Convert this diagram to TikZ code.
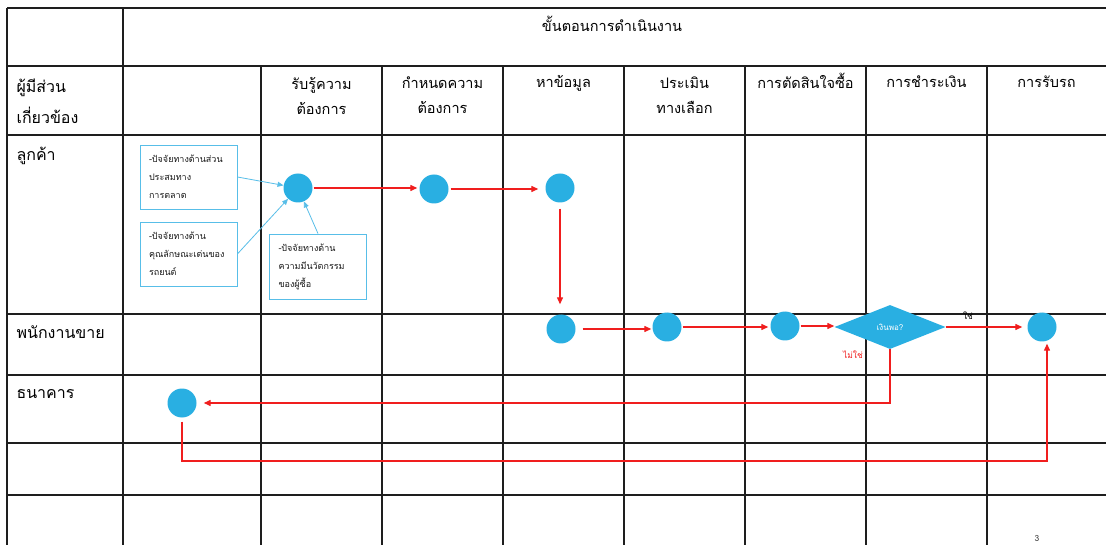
\documentclass[tikz,border=0pt]{standalone}
\usepackage{fontspec}
\setmainfont[Script=Thai]{Loma}
\usetikzlibrary{shapes.geometric,arrows.meta,calc}

\definecolor{dotblue}{RGB}{41,175,226}
\definecolor{boxblue}{RGB}{88,190,232}
\definecolor{flowred}{RGB}{240,30,30}
\definecolor{gridline}{RGB}{30,30,30}

\begin{document}
\begin{tikzpicture}[x=1pt,y=-1pt,
  grid/.style={draw=gridline,line width=1.3pt},
  stepdot/.style={circle,fill=dotblue,minimum size=29pt,inner sep=0pt},
  decision/.style={diamond,fill=dotblue,minimum width=111pt,minimum height=44pt,inner sep=0pt,font=\fontsize{8}{9}\selectfont,text=white},
  factor/.style={draw=boxblue,line width=0.8pt,minimum width=97pt,text width=79pt,align=left,inner xsep=9pt,font=\fontsize{9}{18}\selectfont,text=black!90},
  flow/.style={draw=flowred,line width=1.3pt,-{Triangle[length=7pt,width=6pt]}},
  link/.style={draw=boxblue,line width=0.8pt,-{Triangle[length=6pt,width=5pt]}},
  head/.style={font=\fontsize{14.5}{25}\selectfont,align=center},
  lane/.style={font=\fontsize{16}{31}\selectfont,align=left,anchor=west},
  tag/.style={font=\fontsize{8.5}{9}\selectfont},
]
\fill[white] (0,0) rectangle (1106,545);
\useasboundingbox (0,0) rectangle (1106,545);

% table rules
\foreach \y in {8,66,135,314,375,443,495}
  \draw[grid] (7,\y) -- (1106,\y);
\foreach \x in {7,123}
  \draw[grid] (\x,8) -- (\x,545);
\foreach \x in {261,382,503,624,745,866,987}
  \draw[grid] (\x,66) -- (\x,545);

% headings
\node[head] (title) at (612,24) {ขั้นตอนการดำเนินงาน};
\node[head] (h1) at (321.5,95.5) {รับรู้ความ\\ต้องการ};
\node[head] (h2) at (442.5,95.5) {กำหนดความ\\ต้องการ};
\node[head] (h3) at (563.5,83) {หาข้อมูล};
\node[head] (h4) at (684.5,95.5) {ประเมิน\\ทางเลือก};
\node[head] (h5) at (805.5,81) {การตัดสินใจซื้อ};
\node[head] (h6) at (926.5,82) {การชำระเงิน};
\node[head] (h7) at (1046.5,82) {การรับรถ};

% lanes
\node[lane] (l0) at (13,101) {ผู้มีส่วน\\เกี่ยวข้อง};
\node[lane] (l1) at (13,156) {ลูกค้า};
\node[lane] (l2) at (13,332) {พนักงานขาย};
\node[lane] (l3) at (13,394) {ธนาคาร};

% steps
\node[stepdot] (c1) at (298,188) {};
\node[stepdot] (c2) at (434,189) {};
\node[stepdot] (c3) at (560,188) {};
\node[stepdot] (c4) at (561,329) {};
\node[stepdot] (c5) at (667,327) {};
\node[stepdot] (c6) at (785,326) {};
\node[decision] (dec) at (890,327) {เงินพอ?};
\node[stepdot] (c7) at (1042,327) {};
\node[stepdot] (c8) at (182,403) {};
\coordinate (lowturn) at (600,461);

% factor boxes
\node[factor,minimum height=64pt] (f1) at (188.5,177) {-ปัจจัยทางด้านส่วน\\ประสมทาง\\การตลาด};
\node[factor,minimum height=64pt] (f2) at (188.5,254) {-ปัจจัยทางด้าน\\คุณลักษณะเด่นของ\\รถยนต์};
\node[factor,minimum height=65pt] (f3) at (318,266.5) {-ปัจจัยทางด้าน\\ความมีนวัตกรรม\\ของผู้ซื้อ};

\draw[link] (f1.east) -- (c1);
\draw[link] (f2.east) -- (c1);
\draw[link] (f3.north) -- (c1);

% flow
\draw[flow,shorten <=1pt,shorten >=2pt] (c1.east) -- (c1.east -| c2.west);
\draw[flow,shorten <=2pt,shorten >=7pt] (c2.east) -- (c2.east -| c3.west);
\draw[flow,shorten <=6pt,shorten >=10pt] (c3.south) -- (c3.south |- c4.north);
\draw[flow,shorten <=7pt,shorten >=1pt] (c4.east) -- (c4.east -| c5.west);
\draw[flow,shorten <=1pt,shorten >=2pt] (c5.east) -- (c5.east -| c6.west);
\draw[flow,shorten <=1pt] (c6.east) -- (c6.east -| dec.west);
\draw[flow,shorten >=5pt] (dec.east) -- (dec.east -| c7.west);
\draw[flow,shorten >=7pt] (dec.south) |- (c8.east);
\draw[flow,shorten <=4pt,shorten >=2pt] (c8.south) |- (lowturn) -| ([xshift=5pt]c7.south);

\node[tag] (yes) at (968,316) {ใช่};
\node[tag,text=flowred] (no) at (853,355) {ไม่ใช่};

\node[font=\fontsize{8.5}{9}\selectfont,text=black!75] (pg) at (1037,538) {3};
\end{tikzpicture}
\end{document}
